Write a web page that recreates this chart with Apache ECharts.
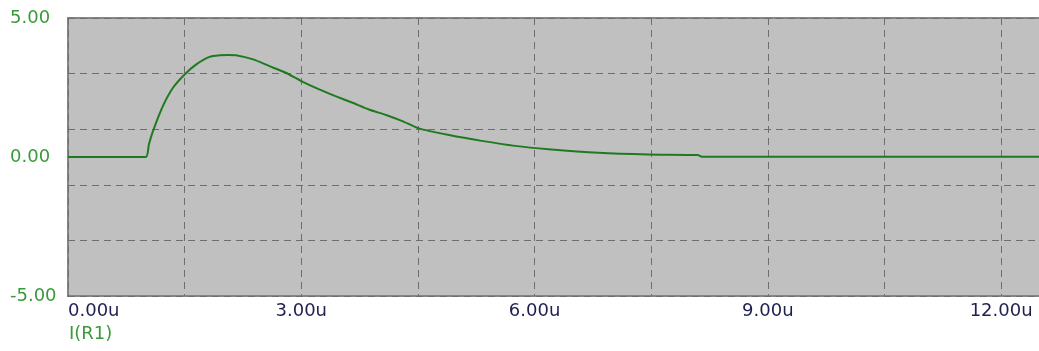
<!DOCTYPE html>
<html>
<head>
<meta charset="utf-8">
<script src="https://cdn.jsdelivr.net/npm/echarts@6/dist/echarts.min.js"></script>
<style>
html,body{margin:0;padding:0;background:#fff;overflow:hidden;}
#c{width:1043px;height:351px;}
</style>
</head>
<body>
<div id="c"></div>
<script>
// time in microseconds
var times = [0, 1.0, 1.04, 1.094, 1.22, 1.35, 1.5, 1.65, 1.82, 1.95, 2.06, 2.16, 2.38, 2.59, 2.80, 3.0, 3.23, 3.44, 3.66, 3.87, 4.09, 4.30, 4.51, 4.90, 5.32, 5.75, 6.18, 6.82, 7.46, 8.1, 8.15, 12.5];
// I(R1) values
var current = [0, 0, 0.45, 0.94, 1.83, 2.49, 2.97, 3.33, 3.60, 3.66, 3.67, 3.66, 3.51, 3.27, 3.03, 2.73, 2.43, 2.19, 1.95, 1.71, 1.51, 1.29, 1.03, 0.79, 0.58, 0.40, 0.28, 0.15, 0.09, 0.07, 0.01, 0.01];
var xTickLabels = [0, 3, 6, 9, 12];
var yTickLabels = [5, 0, -5];
var traceName = 'I(R1)';

var data = times.map(function (t, i) { return [t, current[i]]; });
var chart = echarts.init(document.getElementById('c'), null, {renderer: 'canvas'});
var font = 'DejaVu Sans';
chart.setOption({
  animation: false,
  backgroundColor: '#ffffff',
  grid: {left: 68, top: 18, right: 0, bottom: 55, show: true, backgroundColor: '#c0c0c0', borderColor: '#858585', borderWidth: 2},
  xAxis: [
    {type: 'value', min: 0, max: 12.5, interval: 3, position: 'bottom',
     axisLine: {show: false}, axisTick: {show: false}, splitLine: {show: false},
     axisLabel: {color: '#1e2050', fontSize: 18, fontFamily: font, margin: 6, alignMinLabel: 'left',
       formatter: function (v) {
         for (var i = 0; i < xTickLabels.length; i++) { if (Math.abs(v - xTickLabels[i]) < 1e-6) return v.toFixed(2) + 'u'; }
         return '';
       }}},
    {type: 'value', min: 0, max: 12.5, interval: 1.5, position: 'top',
     axisLine: {show: false}, axisTick: {show: false}, axisLabel: {show: false},
     splitLine: {show: true, lineStyle: {type: [7, 5], color: '#6e6e6e', width: 1}}}
  ],
  yAxis: [
    {type: 'value', min: -5, max: 5, interval: 5, position: 'left',
     axisLine: {show: false}, axisTick: {show: false}, splitLine: {show: false},
     axisLabel: {color: '#3a9a3a', fontSize: 18, fontFamily: font, margin: 58, align: 'left',
       formatter: function (v) {
         for (var i = 0; i < yTickLabels.length; i++) { if (Math.abs(v - yTickLabels[i]) < 1e-6) return v.toFixed(2); }
         return '';
       }}},
    {type: 'value', min: -5, max: 5, interval: 2, position: 'right',
     axisLine: {show: false}, axisTick: {show: false}, axisLabel: {show: false},
     splitLine: {show: true, lineStyle: {type: [7, 5], color: '#6e6e6e', width: 1}}}
  ],
  graphic: [
    {type: 'text', left: 69, top: 325, style: {text: traceName, fill: '#3a9a3a', font: '18px "DejaVu Sans"'}}
  ],
  series: [
    {type: 'line', xAxisIndex: 0, yAxisIndex: 0, data: data, showSymbol: false, smooth: 0.2,
     lineStyle: {color: '#1f7a1f', width: 2}}
  ]
});
</script>
</body>
</html>
